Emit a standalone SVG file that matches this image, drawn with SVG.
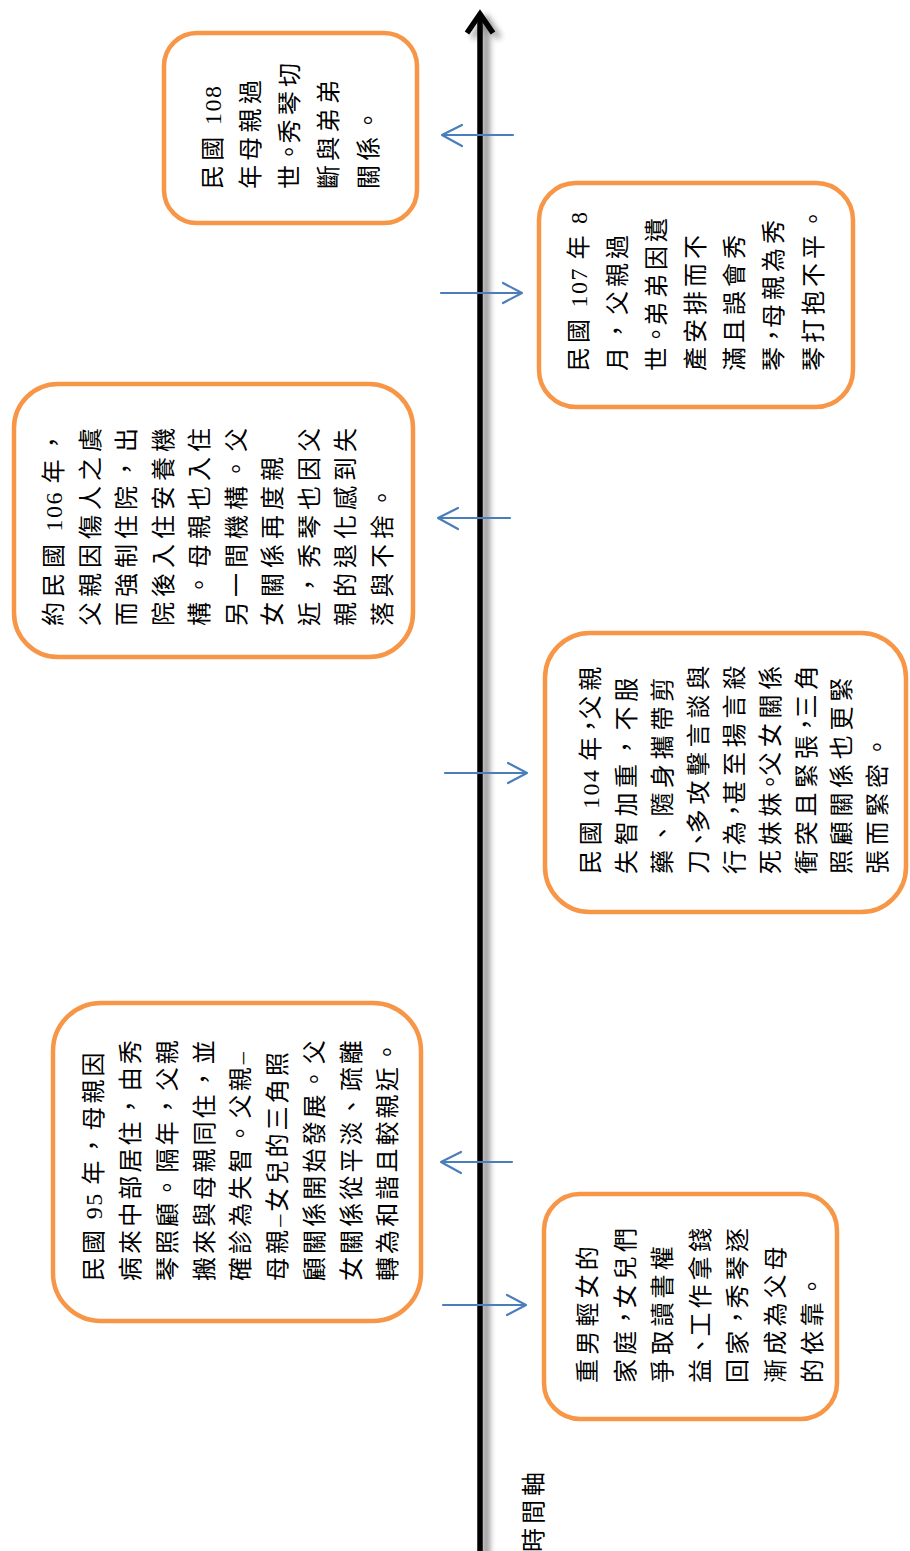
<svg xmlns="http://www.w3.org/2000/svg" width="910" height="1551" viewBox="0 0 910 1551">
<style>
.box{fill:#fff;stroke:#F79646;stroke-width:4.5}
.t{font-family:'Liberation Serif','Noto Sans CJK TC',serif;font-size:24px;fill:#000}
.l{letter-spacing:1.5px}
.ax{fill:none;stroke:#000;stroke-width:5.5;stroke-linecap:butt;stroke-linejoin:miter}
.ar{fill:none;stroke:#4A7EBB;stroke-width:2.2;stroke-linecap:round;stroke-linejoin:round}
</style>
<defs>
<filter id="sh" x="-50%" y="-5%" width="200%" height="110%"><feGaussianBlur stdDeviation="3"/></filter>
</defs>
<rect width="910" height="1551" fill="#fff"/>
<g id="connectors">
<g filter="url(#sh)" opacity="0.45">
<path d="M486,18 L486,1560" style="fill:none;stroke:#000;stroke-width:7"/>
<path d="M473,38 L486,18 L499,38" style="fill:none;stroke:#000;stroke-width:5"/>
</g>
<path class="ax" d="M480,14 L480,1560"/>
<path class="ax" d="M467,33 L480,14 L493,33"/>
<path class="ar" d="M513,135 L442,135 M462,125 L442,135 L462,146"/>
<path class="ar" d="M441,293 L522,293 M503,283 L522,293 L503,303"/>
<path class="ar" d="M510,518 L438,518 M458,508 L438,518 L458,529"/>
<path class="ar" d="M445,773 L527,773 M508,763 L527,773 L508,783"/>
<path class="ar" d="M512,1162 L441,1162 M461,1152 L441,1162 L461,1173"/>
<path class="ar" d="M443,1305 L526,1305 M507,1295 L526,1305 L507,1315"/>
</g>
<g id="n108">
<rect class="box" x="164" y="33" width="253" height="190" rx="33"/>
<g class="t" transform="translate(0,189) rotate(-90)" style="letter-spacing:4.3px">
<text x="0" y="221">民國<tspan class="l"> 108</tspan></text>
<text x="0" y="259">年母親過</text>
<text x="0" y="298">世<tspan dx="-3.4" style="letter-spacing:-3.4px">。</tspan>秀琴切</text>
<text x="0" y="337">斷與弟弟</text>
<text x="0" y="377">關係。</text>
</g>
</g>
<g id="n107">
<rect class="box" x="539" y="183" width="314" height="224" rx="37"/>
<g class="t" transform="translate(0,371) rotate(-90)" style="letter-spacing:4px">
<text x="0" y="587">民國<tspan class="l"> 107 </tspan>年<tspan class="l"> 8</tspan></text>
<text x="0" y="626">月，父親過</text>
<text x="0" y="665">世<tspan dx="-3.5" style="letter-spacing:-3.5px">。</tspan>弟弟因遺</text>
<text x="0" y="704">產安排而不</text>
<text x="0" y="743">滿且誤會秀</text>
<text x="0" y="782">琴<tspan dx="-4.5" style="letter-spacing:-4.5px">，</tspan>母親為秀</text>
<text x="0" y="822">琴打抱不平。</text>
</g>
</g>
<g id="n106">
<rect class="box" x="14" y="384" width="399" height="273" rx="44"/>
<g class="t" transform="translate(0,626) rotate(-90)" style="letter-spacing:5px">
<text x="0" y="62">約民國<tspan class="l"> 106 </tspan>年，</text>
<text x="0" y="98.5">父親因傷人之虞</text>
<text x="0" y="135">而強制住院，出</text>
<text x="0" y="171.5">院後入住安養機</text>
<text x="0" y="208">構。母親也入住</text>
<text x="0" y="244.5">另一間機構。父</text>
<text x="0" y="281">女關係再度親</text>
<text x="0" y="317.5">近，秀琴也因父</text>
<text x="0" y="354">親的退化感到失</text>
<text x="0" y="390.5">落與不捨。</text>
</g>
</g>
<g id="n104">
<rect class="box" x="545" y="633" width="361" height="279" rx="45"/>
<g class="t" transform="translate(0,874) rotate(-90)" style="letter-spacing:4.7px">
<text x="0" y="599">民國<tspan class="l"> 104 </tspan>年<tspan dx="-5.5" style="letter-spacing:-5.5px">，</tspan>父親</text>
<text x="0" y="635">失智加重，不服</text>
<text x="0" y="671">藥、隨身攜帶剪</text>
<text x="0" y="707">刀<tspan dx="-6" style="letter-spacing:-6px">、</tspan>多攻擊言談與</text>
<text x="0" y="742.5">行為<tspan dx="-6" style="letter-spacing:-6px">，</tspan>甚至揚言殺</text>
<text x="0" y="778.5">死妹妹<tspan dx="-6" style="letter-spacing:-6px">。</tspan>父女關係</text>
<text x="0" y="814.5">衝突且緊張<tspan dx="-6" style="letter-spacing:-6px">，</tspan>三角</text>
<text x="0" y="850">照顧關係也更緊</text>
<text x="0" y="886">張而緊密。</text>
</g>
</g>
<g id="n95">
<rect class="box" x="53" y="1003" width="368" height="318" rx="48"/>
<g class="t" transform="translate(0,1281) rotate(-90)" style="letter-spacing:3.1px">
<text x="0" y="102">民國<tspan class="l"> 95 </tspan>年，母親因</text>
<text x="0" y="139">病來中部居住，由秀</text>
<text x="0" y="175.5">琴照顧。隔年，父親</text>
<text x="0" y="212.5">搬來與母親同住，並</text>
<text x="0" y="249">確診為失智。父親–</text>
<text x="0" y="286">母親–女兒的三角照</text>
<text x="0" y="323">顧關係開始發展。父</text>
<text x="0" y="359.5">女關係從平淡、疏離</text>
<text x="0" y="396">轉為和諧且較親近。</text>
</g>
</g>
<g id="nEarly">
<rect class="box" x="544" y="1194" width="293" height="225" rx="36"/>
<g class="t" transform="translate(0,1383) rotate(-90)" style="letter-spacing:4.2px">
<text x="0" y="596">重男輕女的</text>
<text x="0" y="633.5">家庭<tspan dx="-2.9" style="letter-spacing:-2.9px">，</tspan>女兒們</text>
<text x="0" y="671">爭取讀書權</text>
<text x="0" y="708.5">益<tspan dx="-2.9" style="letter-spacing:-2.9px">、</tspan>工作拿錢</text>
<text x="0" y="746">回家<tspan dx="-2.9" style="letter-spacing:-2.9px">，</tspan>秀琴逐</text>
<text x="0" y="783.5">漸成為父母</text>
<text x="0" y="821">的依靠。</text>
</g>
</g>
<g id="axisLabel">
<g class="t" transform="translate(0,1552) rotate(-90)" style="font-size:24px;letter-spacing:4px">
<text x="0" y="542">時間軸</text>
</g>
</g>
</svg>
